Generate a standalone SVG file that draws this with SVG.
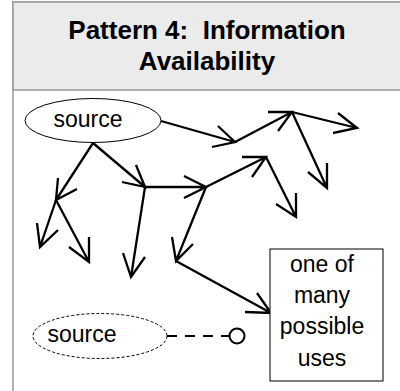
<svg xmlns="http://www.w3.org/2000/svg" width="400" height="391" viewBox="0 0 400 391">
<style>
.frame{fill:#ffffff;stroke:#999999;stroke-width:1.5}
.head{fill:#ebebeb;stroke:#999999;stroke-width:1.5}
.title{font-family:"Liberation Sans",Arial,sans-serif;font-size:26px;font-weight:bold;fill:#000;text-anchor:middle;white-space:pre}
.lbl{font-family:"Liberation Sans",Arial,sans-serif;font-size:23px;fill:#000;text-anchor:middle}
.shape{fill:#ffffff;stroke:#000;stroke-width:1}
.dash{fill:#ffffff;stroke:#000;stroke-width:1;stroke-dasharray:3 2}
.arr{fill:none;stroke:#000;stroke-width:2.3;stroke-linecap:butt;stroke-linejoin:miter}
</style>
<rect class="frame" x="13" y="2" width="400" height="400"/>
<g id="header">
<rect class="head" x="13" y="2" width="400" height="88"/>
<text class="title" x="207" y="38.5" xml:space="preserve">Pattern 4:  Information</text>
<text class="title" x="207" y="70">Availability</text>
</g>
<g id="connectors">
<path class="arr" d="M161,121 L235,142 M218,126 L235,142 L212,147"/>
<path class="arr" d="M235,142 L292,112 M268,112 L292,112 L278,131"/>
<path class="arr" d="M292,112 L357,128 M338,113 L357,128 L333,133"/>
<path class="arr" d="M292,112 L327,188 M327,163 L327,188 L308,172"/>
<path class="arr" d="M93,143 L56,200 M58,178 L56,200 L77,189"/>
<path class="arr" d="M93,143 L145,187 M136,165 L145,187 L122,182"/>
<path class="arr" d="M145,187 L206,187 M184,176 L206,187 L184,198"/>
<path class="arr" d="M206,187 L266,157 M242,157 L266,157 L252,177"/>
<path class="arr" d="M266,157 L296,217 M296,193 L296,217 L276,204"/>
<path class="arr" d="M206,187 L176,261 M172,237 L176,261 L193,244"/>
<path class="arr" d="M176,261 L271,313 M257,293 L271,313 L245,312"/>
<path class="arr" d="M145,187 L131,277 M123,253 L131,277 L145,257"/>
<path class="arr" d="M56,200 L40,247 M37,223 L40,247 L58,230"/>
<path class="arr" d="M56,200 L89,262 M89,237 L89,262 L69,247"/>
<path fill="none" stroke="#000" stroke-width="2.2" stroke-dasharray="10 8" d="M167,336 L229,336"/>
</g>
<g id="source">
<ellipse class="shape" cx="93" cy="120.5" rx="68" ry="22"/>
<text class="lbl" x="88" y="127">source</text>
</g>
<g id="source-dashed">
<ellipse class="dash" cx="100" cy="336" rx="67" ry="22.5"/>
<text class="lbl" x="82" y="342">source</text>
</g>
<g id="endpoint">
<circle cx="237" cy="336" r="7.5" fill="#ffffff" stroke="#000" stroke-width="2"/>
</g>
<g id="uses">
<rect class="shape" x="270" y="249" width="113" height="132"/>
<text class="lbl" x="322" y="272">one of</text>
<text class="lbl" x="322" y="303">many</text>
<text class="lbl" x="322" y="334">possible</text>
<text class="lbl" x="322" y="366">uses</text>
</g>
</svg>
